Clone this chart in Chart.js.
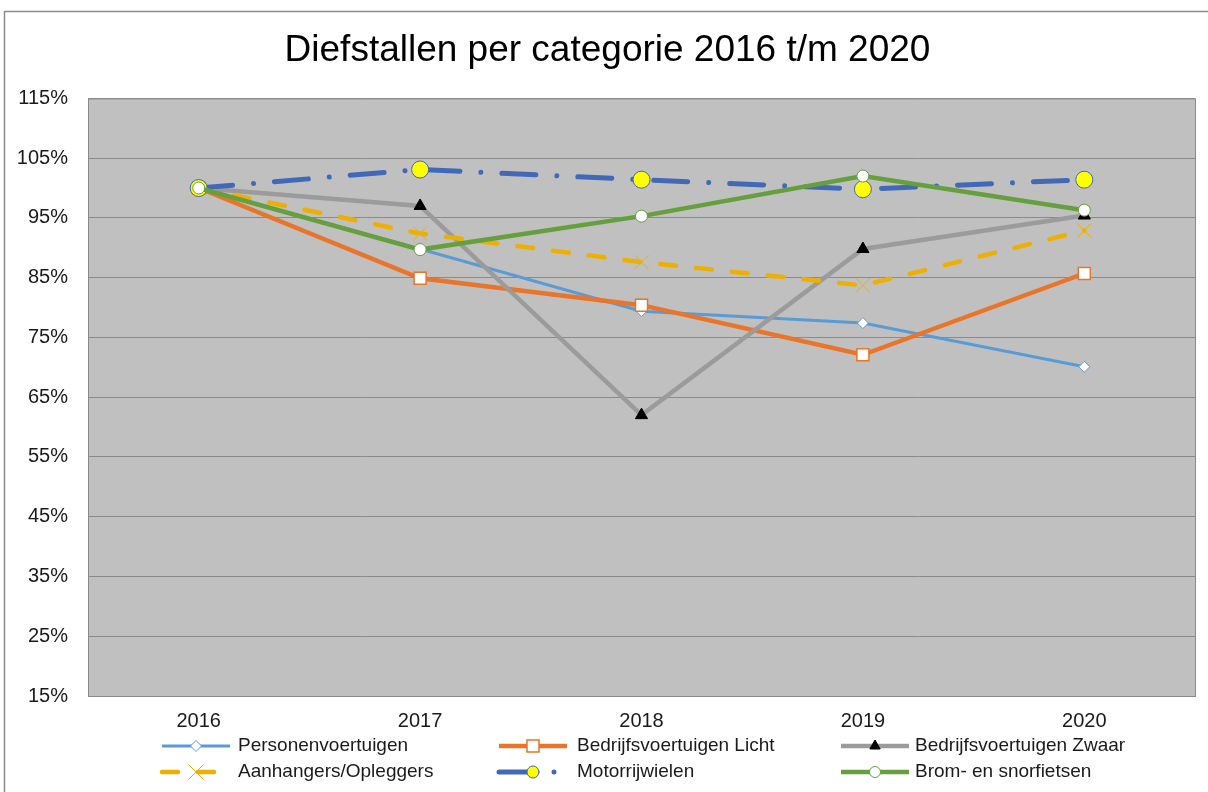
<!DOCTYPE html>
<html><head><meta charset="utf-8">
<script src="https://cdn.jsdelivr.net/npm/chart.js@4.4.1/dist/chart.umd.min.js"></script>
<style>html,body{margin:0;padding:0;background:#fff}#wrap{width:1208px;height:792px;position:relative}</style>
</head><body><div id="wrap"><canvas id="c" width="1208" height="792"></canvas></div>
<script>
const categories = ['2016', '2017', '2018', '2019', '2020'];
const seriesNames = ['Personenvoertuigen', 'Bedrijfsvoertuigen Licht', 'Bedrijfsvoertuigen Zwaar', 'Aanhangers/Opleggers', 'Motorrijwielen', 'Brom- en snorfietsen'];
const personenvoertuigen = [100, 89.8, 79.4, 77.4, 70.1];
const bedrijfsLicht = [100, 84.9, 80.4, 72.1, 85.7];
const bedrijfsZwaar = [100, 97.0, 62.0, 89.8, 95.4];
const aanhangers = [100, 92.4, 87.6, 83.7, 92.9];
const motorrijwielen = [100, 103.1, 101.4, 99.8, 101.4];
const bromSnorfietsen = [100, 89.7, 95.3, 102.0, 96.3];
const yTicks = [15, 25, 35, 45, 55, 65, 75, 85, 95, 105, 115];
const titleText = 'Diefstallen per categorie 2016 t/m 2020';

Chart.defaults.font.family = "'Liberation Sans', Arial, sans-serif";

const bgPlugin = {
  id: 'bg',
  afterLayout(chart) {
    if (chart.titleBlock) { chart.titleBlock.left += 20; }
  },
  beforeDraw(chart) {
    const ctx = chart.ctx, a = chart.chartArea;
    ctx.save();
    ctx.fillStyle = '#fff';
    ctx.fillRect(0, 0, chart.width, chart.height);
    ctx.strokeStyle = '#8c8c8c';
    ctx.lineWidth = 1.5;
    ctx.strokeRect(4.5, 11.5, chart.width + 20, chart.height + 20);
    ctx.fillStyle = '#c0c0c0';
    ctx.fillRect(a.left, a.top, a.right - a.left, a.bottom - a.top);
    ctx.strokeStyle = '#8a8a8a';
    ctx.lineWidth = 1;
    ctx.strokeRect(a.left + 0.5, a.top + 0.5, a.right - a.left, a.bottom - a.top);
    ctx.restore();
  }
};

const legendPlugin = {
  id: 'customLegend',
  afterDraw(chart) {
    const ctx = chart.ctx;
    const colX = [162, 499, 841];
    const textX = [238, 577, 915];
    const rowY = [746, 772];
    chart.data.datasets.forEach((ds, i) => {
      const col = i % 3, row = Math.floor(i / 3);
      const x0 = colX[col], y = rowY[row];
      ctx.save();
      ctx.strokeStyle = ds.borderColor;
      ctx.lineWidth = ds.borderWidth;
      ctx.lineCap = ds.borderCapStyle || 'butt';
      ctx.setLineDash(ds.borderDash || []);
      ctx.beginPath();
      ctx.moveTo(x0, y);
      ctx.lineTo(x0 + 68, y);
      ctx.stroke();
      ctx.setLineDash([]);
      ctx.fillStyle = ds.pointBackgroundColor;
      ctx.strokeStyle = ds.pointBorderColor;
      ctx.lineWidth = ds.pointBorderWidth;
      Chart.helpers.drawPoint(ctx, {pointStyle: ds.pointStyle, radius: ds.legendRadius, borderWidth: ds.pointBorderWidth, rotation: 0}, x0 + 34, y);
      ctx.fillStyle = '#1a1a1a';
      ctx.font = "19px 'Liberation Sans', Arial, sans-serif";
      ctx.textBaseline = 'middle';
      ctx.textAlign = 'left';
      ctx.fillText(seriesNames[i], textX[col], y);
      ctx.restore();
    });
  }
};

const datasets = [
  {label: seriesNames[0], data: personenvoertuigen, borderColor: '#5B9BD5', borderWidth: 3,
   pointStyle: 'rectRot', pointRadius: 5.5, legendRadius: 5.5, pointBackgroundColor: '#ffffff', pointBorderColor: '#5B9BD5', pointBorderWidth: 1, order: 5},
  {label: seriesNames[1], data: bedrijfsLicht, borderColor: '#E87529', borderWidth: 4.5,
   pointStyle: 'rect', pointRadius: 8.5, legendRadius: 8.5, pointBackgroundColor: '#ffffff', pointBorderColor: '#E87529', pointBorderWidth: 1.5, order: 4},
  {label: seriesNames[2], data: bedrijfsZwaar, borderColor: '#9B9B9B', borderWidth: 4.5,
   pointStyle: 'triangle', pointRadius: 7, legendRadius: 6, pointBackgroundColor: '#000000', pointBorderColor: '#000000', pointBorderWidth: 1, order: 3},
  {label: seriesNames[3], data: aanhangers, borderColor: '#EEB000', borderWidth: 4.5, borderDash: [16, 20], borderCapStyle: 'round',
   pointStyle: 'crossRot', pointRadius: 10, legendRadius: 10, pointBackgroundColor: '#EEB000', pointBorderColor: '#EEB000', pointBorderWidth: 1, order: 2},
  {label: seriesNames[4], data: motorrijwielen, borderColor: '#4169B8', borderWidth: 5, borderDash: [34, 21, 0.01, 21], borderCapStyle: 'round',
   pointStyle: 'circle', pointRadius: 8.5, legendRadius: 6, pointBackgroundColor: '#FFFF00', pointBorderColor: '#4169B8', pointBorderWidth: 1, order: 1},
  {label: seriesNames[5], data: bromSnorfietsen, borderColor: '#66A03E', borderWidth: 4.5,
   pointStyle: 'circle', pointRadius: 6, legendRadius: 5.5, pointBackgroundColor: '#ffffff', pointBorderColor: '#66A03E', pointBorderWidth: 1, order: 0}
];
datasets.forEach(d => { d.tension = 0; d.fill = false; d.pointHoverRadius = d.pointRadius; });

new Chart(document.getElementById('c'), {
  type: 'line',
  data: {labels: categories, datasets},
  plugins: [bgPlugin, legendPlugin],
  options: {
    responsive: false,
    animation: false,
    devicePixelRatio: 1,
    layout: {padding: {left: 0, right: 13, top: 0, bottom: 56}},
    plugins: {
      legend: {display: false},
      tooltip: {enabled: false},
      title: {display: true, text: titleText, color: '#000', font: {size: 37, weight: 'normal'}, padding: {top: 29, bottom: 25}}
    },
    scales: {
      x: {
        type: 'category', offset: true,
        grid: {display: false, drawTicks: false},
        border: {display: false},
        ticks: {color: '#1a1a1a', font: {size: 20}, padding: 13},
        afterFit(s) { s.height = 40; }
      },
      y: {
        min: 15, max: 115,
        afterBuildTicks(s) { s.ticks = yTicks.map(v => ({value: v})); },
        grid: {color: '#8a8a8a', lineWidth: 1, drawTicks: false},
        border: {display: true, color: '#8a8a8a'},
        ticks: {color: '#1a1a1a', font: {size: 20}, padding: 20, callback: v => v + '%'},
        afterFit(s) { s.width = 88; }
      }
    }
  }
});
</script></body></html>
